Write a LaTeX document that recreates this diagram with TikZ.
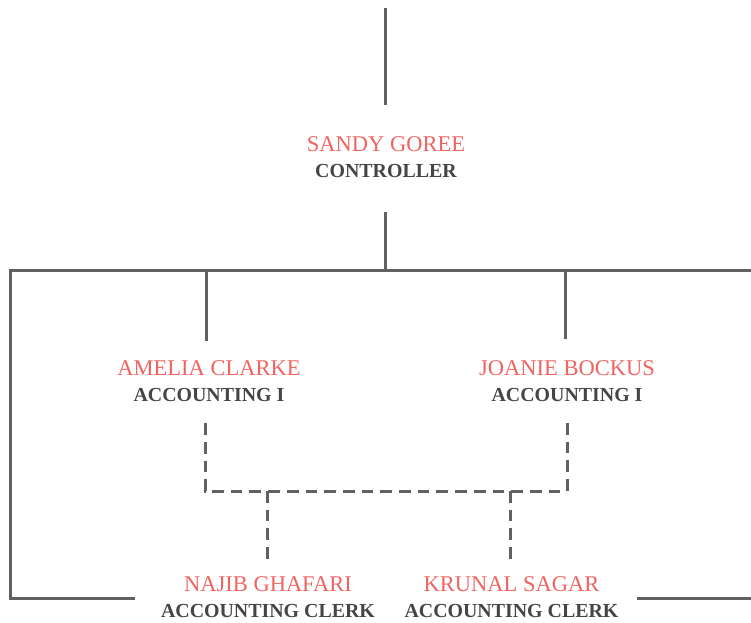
\documentclass[tikz,border=0pt]{standalone}
\usepackage{fontspec}
\setmainfont{Liberation Serif}
\usetikzlibrary{calc}

\definecolor{namered}{HTML}{EF6461}
\definecolor{titlegray}{HTML}{454545}
\definecolor{linegray}{HTML}{616161}

\newcommand{\person}[2]{{\color{namered}#1}\\{\color{titlegray}\bfseries\fontsize{19.9}{26}\selectfont #2}}

\begin{document}
\begin{tikzpicture}[
        x=1pt, y=-1pt,
        person/.style={
            align=center,
            inner sep=0pt,
            font=\fontsize{22.5}{26}\selectfont
        },
        orgline/.style={draw=linegray, line width=3pt},
        dashline/.style={orgline, dash pattern=on 11.7pt off 7pt}
    ]
    \useasboundingbox (0,0) rectangle (751,622);

    % People
    \node[person] (sandy) at (386,157) {\person{SANDY GOREE}{CONTROLLER}};
    \node[person] (amelia) at (209,381.5) {\person{AMELIA CLARKE}{ACCOUNTING I}};
    \node[person] (joanie) at (567,381.5) {\person{JOANIE BOCKUS}{ACCOUNTING I}};
    \node[person] (najib) at (268,597) {\person{NAJIB GHAFARI}{ACCOUNTING CLERK}};
    \node[person] (krunal) at (511.5,597) {\person{KRUNAL SAGAR}{ACCOUNTING CLERK}};

    % Junctions
    \coordinate (top) at (385,8);
    \coordinate (busL) at (10,270);
    \coordinate (busR) at (753,270);
    \coordinate (baseL) at (10,598);
    \coordinate (baseR) at (753,598);
    \coordinate (dashL) at (205,491);
    \coordinate (dashR) at (567,491);

    % Solid reporting lines
    \draw[orgline] (top) -- ($(sandy.north)+(-1,-31.5)$);
    \draw[orgline] ($(sandy.south)+(-1,34.5)$) -- (top |- busL);
    \draw[orgline] (busR) -- (busL) -- (baseL) -- ($(najib.west)+(-26,1)$);
    \draw[orgline] ($(krunal.east)+(18,1)$) -- (baseR);
    \draw[orgline] (amelia.north |- busL) ++(-3,0) -- ($(amelia.north)+(-3,-20)$);
    \draw[orgline] (joanie.north |- busL) ++(-2,0) -- ($(joanie.north)+(-2,-22)$);

    % Dashed lines
    \draw[dashline] ($(amelia.south)+(-4,21)$) -- (dashL) -- (dashR) -- ($(joanie.south)+(0,21)$);
    \draw[dashline] (najib.north |- dashL) ++(-1,0) -- ($(najib.north)+(-1,-13.5)$);
    \draw[dashline] (krunal.north |- dashL) ++(-1.5,0) -- ($(krunal.north)+(-1.5,-13.5)$);

\end{tikzpicture}
\end{document}
